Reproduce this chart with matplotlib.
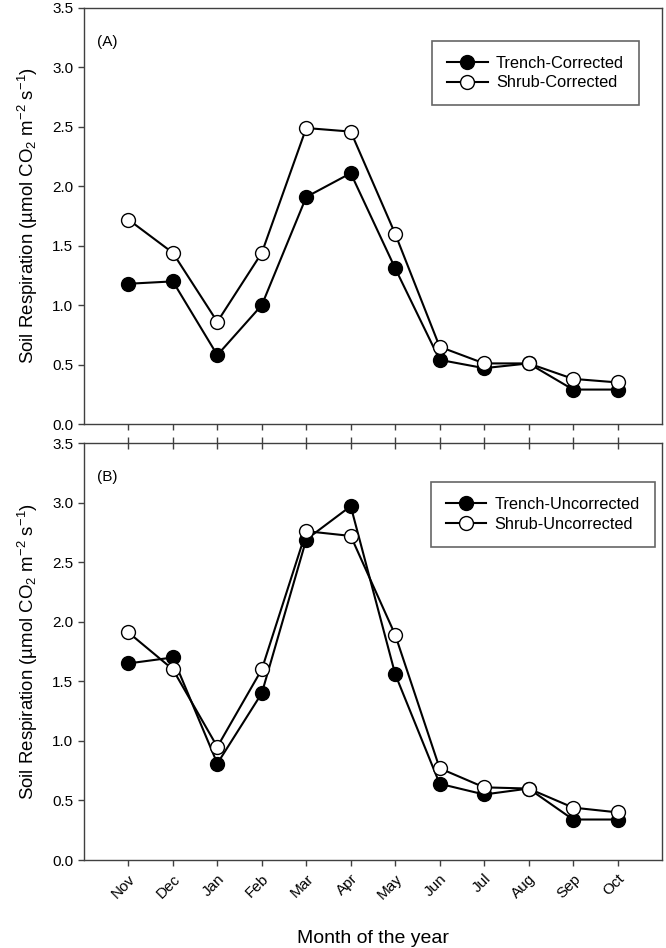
import matplotlib
matplotlib.use('Agg')
import matplotlib.pyplot as plt
import numpy as np

# 字体设置
plt.rcParams['font.family'] = ['Liberation Sans', 'DejaVu Sans']
plt.rcParams['mathtext.fontset'] = 'custom'
plt.rcParams['mathtext.rm'] = 'Liberation Sans'
plt.rcParams['mathtext.default'] = 'regular'

# 数据
months = ['Nov', 'Dec', 'Jan', 'Feb', 'Mar', 'Apr', 'May', 'Jun', 'Jul', 'Aug', 'Sep', 'Oct']
trench_corrected = [1.18, 1.20, 0.58, 1.00, 1.91, 2.11, 1.31, 0.54, 0.47, 0.51, 0.29, 0.29]
shrub_corrected = [1.72, 1.44, 0.86, 1.44, 2.49, 2.46, 1.60, 0.65, 0.51, 0.51, 0.38, 0.35]
trench_uncorrected = [1.65, 1.70, 0.81, 1.40, 2.69, 2.97, 1.56, 0.64, 0.55, 0.60, 0.34, 0.34]
shrub_uncorrected = [1.91, 1.60, 0.95, 1.60, 2.76, 2.72, 1.89, 0.77, 0.61, 0.60, 0.44, 0.40]

ylabel = 'Soil Respiration (\u00b5mol CO$_2$ m$^{-2}$ s$^{-1}$)'
spine_color = '#404040'

fig = plt.figure(figsize=(6.66, 9.48), dpi=100)
ax1 = fig.add_axes([0.126, 0.5527, 0.868, 0.4389])
ax2 = fig.add_axes([0.126, 0.0928, 0.868, 0.4399])

x = np.arange(len(months))


def draw_panel(ax, trench, shrub, lab_t, lab_s, tag, legend_box):
    ax.plot(x, trench, color='black', lw=1.5, marker='o', ms=10,
            mfc='black', mec='black', mew=1, label=lab_t, zorder=3)
    ax.plot(x, shrub, color='black', lw=1.5, marker='o', ms=10,
            mfc='white', mec='black', mew=1, label=lab_s, zorder=4)
    ax.set_xlim(-1, 12)
    ax.set_ylim(0, 3.5)
    ax.set_yticks(np.arange(0, 3.51, 0.5))
    ax.set_yticklabels(['%.1f' % v for v in np.arange(0, 3.51, 0.5)], fontsize=11)
    ax.set_xticks(x)
    ax.tick_params(axis='y', direction='out', length=4.5, width=1, color=spine_color, pad=3)
    ax.tick_params(axis='x', direction='out', length=4.5, width=1, color=spine_color)
    for s in ax.spines.values():
        s.set_color(spine_color)
        s.set_linewidth(1)
    ax.set_ylabel(ylabel, fontsize=13.4, labelpad=9)
    ax.text(0.022, 0.918, tag, transform=ax.transAxes, fontsize=11, va='center', ha='left')
    leg = ax.legend(loc='upper left', bbox_to_anchor=legend_box, fontsize=11.8,
                    frameon=True, fancybox=False, handlelength=2.5, handletextpad=0.5,
                    borderpad=0.9, labelspacing=0.3, borderaxespad=0)
    leg.get_frame().set_edgecolor(spine_color)
    leg.get_frame().set_linewidth(1.2)


draw_panel(ax1, trench_corrected, shrub_corrected,
           'Trench-Corrected', 'Shrub-Corrected', '(A)', (0.602, 0.921))
draw_panel(ax2, trench_uncorrected, shrub_uncorrected,
           'Trench-Uncorrected', 'Shrub-Uncorrected', '(B)', (0.600, 0.906))

# 上图：x轴无标签
ax1.set_xticklabels([])

# 下图：顶部刻度穿过轴线
ax2.xaxis.set_ticks_position('both')
ax2.tick_params(axis='x', top=True, direction='inout', length=9)
ax2.tick_params(axis='x', bottom=True, labelbottom=True, pad=4)
ax2.set_xticks(x)
ax2.set_xticklabels(months, rotation=45, ha='right', rotation_mode='anchor', fontsize=11)
# 底部刻度朝外
for t in ax2.xaxis.get_major_ticks():
    t.tick1line.set_marker(matplotlib.lines.TICKDOWN)
    t.tick1line.set_markersize(4.5)
ax2.set_xlabel('Month of the year', fontsize=14, labelpad=20)

fig.savefig('out.png', dpi=100)
